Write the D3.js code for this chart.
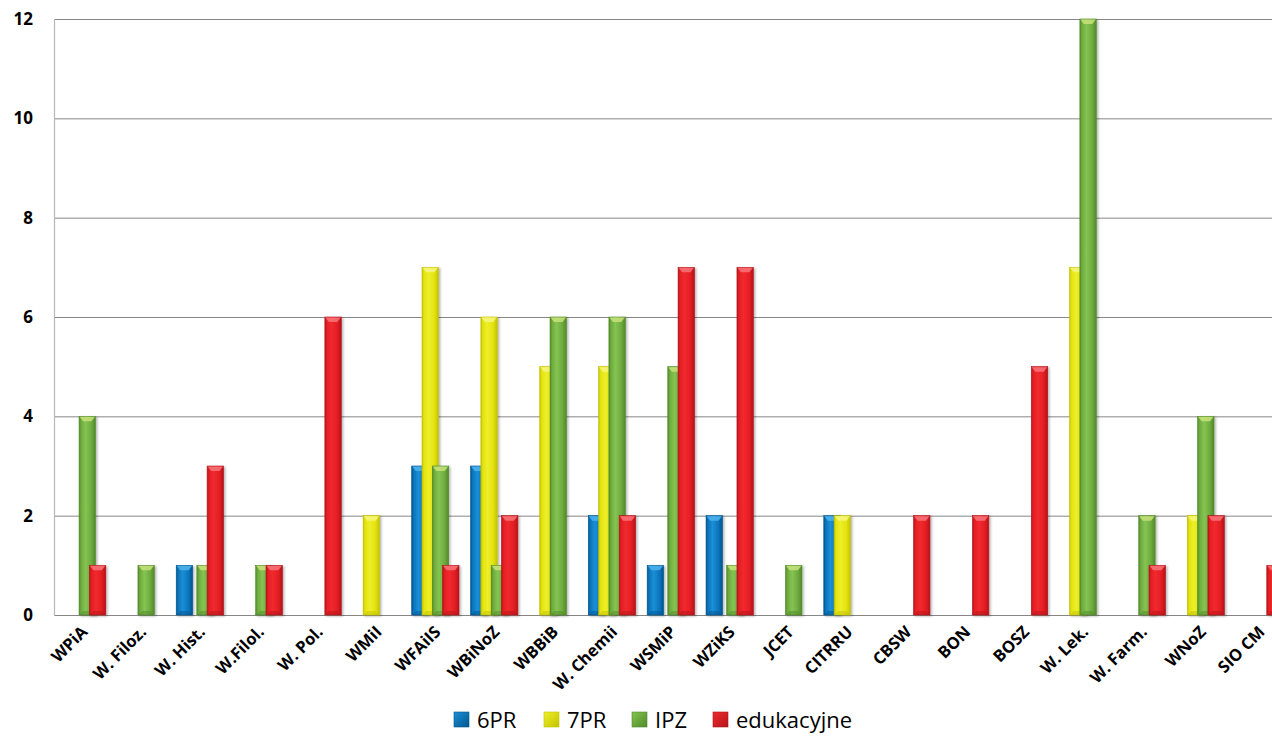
<!DOCTYPE html>
<html><head><meta charset="utf-8">
<script src="https://cdn.jsdelivr.net/npm/d3@7"></script>
<style>html,body{margin:0;padding:0;background:#fff;overflow:hidden}</style>
</head><body>
<svg id="chart" width="1272" height="742"></svg>
<script>
const categories = ["WPiA","W. Filoz.","W. Hist.","W.Filol.","W. Pol.","WMiI","WFAiIS","WBiNoZ","WBBiB","W. Chemii","WSMiP","WZiKS","JCET","CITRRU","CBSW","BON","BOSZ","W. Lek.","W. Farm.","WNoZ","SIO CM"];
const seriesNames = ["6PR","7PR","IPZ","edukacyjne"];
const s6PR  = [0,0,1,0,0,0,3,3,0,2,1,2,0,2,0,0,0,0,0,0,0];
const s7PR  = [0,0,0,0,0,2,7,6,5,5,0,0,0,2,0,0,0,7,0,2,0];
const sIPZ  = [4,1,1,1,0,0,3,1,6,6,5,1,1,0,0,0,0,12,2,4,0];
const sEdu  = [1,0,3,1,6,0,1,2,0,2,7,7,0,0,2,2,5,0,1,2,1];
const yTicks = [0,2,4,6,8,10,12];

const seriesValues = [s6PR, s7PR, sIPZ, sEdu];
const palette = [
  {dark:"#02568f", mid:"#0a74bc", light:"#1b8fd6", cap:"#4fb3ec"},
  {dark:"#c2c200", mid:"#e3e30f", light:"#eeee2a", cap:"#f6f680"},
  {dark:"#4f8a2a", mid:"#6faa3e", light:"#84c452", cap:"#c8e27a"},
  {dark:"#b3141a", mid:"#e41e24", light:"#f02a2e", cap:"#f7757a"}
];

const svg = d3.select("#chart");
const plotLeft = 54, plotTop = 19, plotBottom = 615, band = 58.87;
const x = d3.scaleBand().domain(categories).range([plotLeft, plotLeft + band*categories.length]).padding(0);
const y = d3.scaleLinear().domain([0,12]).range([plotBottom, plotTop]);

const defs = svg.append("defs");
palette.forEach((p,i)=>{
  const g = defs.append("linearGradient").attr("id","g"+i).attr("x1","0").attr("x2","1").attr("y1","0").attr("y2","0");
  [[0,p.dark],[0.12,p.mid],[0.4,p.light],[0.75,p.mid],[1,p.dark]].forEach(([o,c])=>g.append("stop").attr("offset",o).attr("stop-color",c));
  const lg = defs.append("linearGradient").attr("id","lg"+i).attr("x1","0").attr("x2","1").attr("y1","0").attr("y2","1");
  lg.append("stop").attr("offset",0).attr("stop-color",p.light);
  lg.append("stop").attr("offset",1).attr("stop-color",p.dark);
});
const f = defs.append("filter").attr("id","sh").attr("x","-30%").attr("y","-5%").attr("width","160%").attr("height","115%");
f.append("feDropShadow").attr("dx",1.5).attr("dy",1).attr("stdDeviation",1.2).attr("flood-color","#000").attr("flood-opacity",0.3);

// gridlines
svg.append("g").selectAll("line").data(yTicks).join("line")
  .attr("x1",plotLeft).attr("x2",1272).attr("y1",d=>y(d)+0.5).attr("y2",d=>y(d)+0.5)
  .attr("stroke","#868686").attr("stroke-width",1);
// y axis line
svg.append("line").attr("x1",plotLeft+0.5).attr("x2",plotLeft+0.5).attr("y1",plotTop).attr("y2",plotBottom+1).attr("stroke","#b8b8b8").attr("stroke-width",1.2);

// y tick labels
svg.append("g").selectAll("text").data(yTicks).join("text")
  .attr("x",33).attr("y",d=>y(d)+6).attr("text-anchor","end")
  .attr("font-family","'Open Sans', Lato, sans-serif").attr("font-weight","bold").attr("font-size",17).attr("fill","#000")
  .text(d=>d);

// bars
const barW = 16.4, step = 10.3;
const groupW = barW + step*3;
const offset0 = (band - groupW)/2 - 1.3;
seriesValues.forEach((vals,si)=>{
  const g = svg.append("g");
  const data = categories.map((c,i)=>({c, v: vals[i]})).filter(d=>d.v>0);
  const bx = d=>x(d.c) + offset0 + si*step;
  g.selectAll("rect").data(data).join("rect")
    .attr("x",bx).attr("width",barW)
    .attr("y",d=>y(d.v)).attr("height",d=>plotBottom - y(d.v))
    .attr("fill","url(#g"+si+")").attr("stroke",palette[si].dark).attr("stroke-width",0.6)
    .attr("filter","url(#sh)");
  g.selectAll("path.cap").data(data).join("path").attr("class","cap")
    .attr("d",d=>{const x0=bx(d), y0=y(d.v); return `M${x0+0.5},${y0+0.5} L${x0+barW-0.5},${y0+0.5} L${x0+barW-4},${y0+5} L${x0+4},${y0+5} Z`;})
    .attr("fill",palette[si].cap).attr("opacity",0.85);
  g.selectAll("path.bot").data(data).join("path").attr("class","bot")
    .attr("d",d=>{const x0=bx(d); return `M${x0+0.5},${plotBottom} L${x0+barW-0.5},${plotBottom} L${x0+barW-4},${plotBottom-4} L${x0+4},${plotBottom-4} Z`;})
    .attr("fill",palette[si].dark).attr("opacity",0.5);
});

// x labels
svg.append("g").selectAll("text").data(categories).join("text")
  .attr("x",0).attr("y",0)
  .attr("transform",d=>"translate(" + (x(d)+band/2+5) + ",633) rotate(-45)")
  .attr("text-anchor","end")
  .attr("font-family","'Open Sans', Lato, sans-serif").attr("font-weight","bold").attr("font-size",16.5).attr("fill","#000")
  .text(d=>d);

// legend
const legX = [454, 544, 632, 713];
const lg = svg.append("g");
seriesNames.forEach((n,i)=>{
  lg.append("rect").attr("x",legX[i]).attr("y",712).attr("width",15).attr("height",15)
    .attr("fill","url(#lg"+i+")").attr("stroke",palette[i].dark).attr("stroke-width",0.6);
  lg.append("text").attr("x",legX[i]+23).attr("y",728)
    .attr("font-family","'Open Sans', Lato, sans-serif").attr("font-size",22).attr("fill","#000").text(n);
});
</script>
</body></html>
